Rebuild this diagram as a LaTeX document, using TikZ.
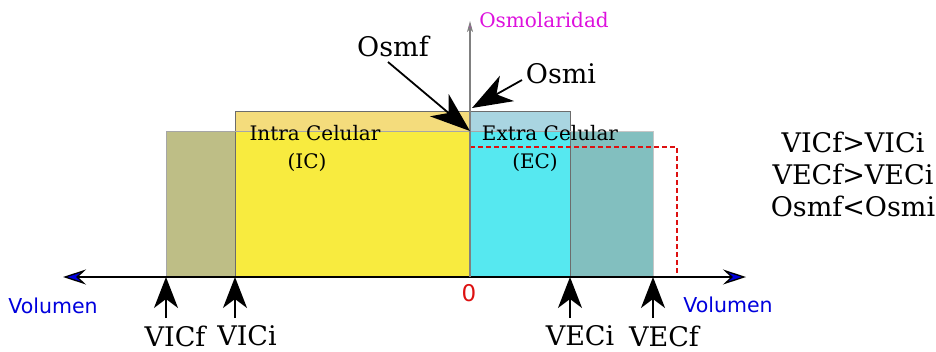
\documentclass[tikz,border=0pt]{standalone}
\usepackage{fontspec}
\setmainfont{DejaVu Serif}
\newfontfamily\sansfont{DejaVu Sans}
\usetikzlibrary{arrows.meta}
\definecolor{olivo}{HTML}{BEBE86}
\definecolor{amarilloclaro}{HTML}{F4DC7C}
\definecolor{amarillo}{HTML}{F8EB3F}
\definecolor{celeste}{HTML}{A9D5E1}
\definecolor{cian}{HTML}{56E8F0}
\definecolor{verdeazul}{HTML}{82BFBF}
\definecolor{rojo}{HTML}{DD1111}
\definecolor{magenta}{HTML}{DD11DD}
\definecolor{azul}{HTML}{0000DD}
\begin{document}
\begin{tikzpicture}[x=1pt,y=-1pt,
  flecha/.style={-{Stealth[length=31pt,width=24pt,inset=9pt]},line width=1.8pt},
  flechaosm/.style={-{Stealth[length=40pt,width=29pt,inset=12pt]},line width=1.8pt},
  grande/.style={font=\fontsize{27}{32}\selectfont,inner sep=0pt},
  medio/.style={font=\fontsize{20}{24}\selectfont,inner sep=0pt},
  borde/.style={draw=gray!85!black,line width=0.9pt}]
  \useasboundingbox (0,0) rectangle (936,351);
  % ejes
  \coordinate (O) at (470,277);
  \coordinate (izq) at (63,277);
  \coordinate (der) at (746,277);
  \coordinate (arriba) at (470,21);
  % compartimento intra celular
  \fill[olivo] (166,131) rectangle (235,277);
  \fill[amarilloclaro] (235,111) rectangle (470,131);
  \fill[amarillo] (235,131) rectangle (470,277);
  \draw[borde] (235,277) |- (470,111);
  \draw[gray!70,line width=0.9pt] (166,277) |- (470,131);
  % compartimento extra celular
  \fill[celeste] (470,111) rectangle (570,131);
  \fill[cian] (470,131) rectangle (570,277);
  \fill[verdeazul] (570,131) rectangle (653,277);
  \draw[borde] (470,111) -| (570,277);
  \draw[gray!45,line width=0.9pt] (570,131) -| (653,277);
  \draw[gray!70,line width=0.7pt] (470,131) -- (570,131);
  % volumen final (trazo rojo)
  \draw[rojo,line width=2.2pt,dash pattern=on 5pt off 3pt] (470,147) -| (677,275);
  % ejes
  \draw[line width=1.3pt,-{Stealth[length=23pt,width=15pt,inset=8pt,fill=azul]}] (O) -- (izq);
  \draw[line width=1.3pt,-{Stealth[length=23pt,width=15pt,inset=8pt,fill=azul]}] (O) -- (der);
  \draw[gray,line width=1.1pt,-{Stealth[length=11pt,width=6pt,inset=3pt,fill=magenta]}] (470,277) -- (arriba);
  \node[medio,text=magenta] (osmolaridad) at (544,20) {Osmolaridad};
  \node[font=\sansfont\fontsize{20.5}{24}\selectfont,text=azul,inner sep=0pt] (volizq) at (53,306) {Volumen};
  \node[font=\sansfont\fontsize{20.5}{24}\selectfont,text=azul,inner sep=0pt] (volder) at (728,305) {Volumen};
  \node[font=\sansfont\fontsize{23}{27}\selectfont,text=rojo,inner sep=0pt] (cero) at (469,293) {0};
  % textos de los compartimentos
  \node[medio] (ic) at (315,133) {Intra Celular};
  \node[medio] (icb) at (307,162) {(IC)};
  \node[medio] (ec) at (550,133) {Extra Celular};
  \node[medio] (ecb) at (535,162) {(EC)};
  % osmolaridades
  \node[grande] (osmf) at (393,46) {Osmf};
  \node[grande] (osmi) at (561,74) {Osmi};
  \coordinate (pf) at (470,131);
  \coordinate (pi) at (472,108);
  \draw[flechaosm] (388,62) -- (pf);
  \draw[flechaosm] (522,80) -- (pi);
  % volumenes
  \foreach \nom/\x/\dx in {VICf/166/9,VICi/235/12,VECi/570/10,VECf/653/11}{
    \coordinate (p\nom) at (\x,277);
    \coordinate (c\nom) at (\x,318);
    \draw[flecha] (c\nom) -- (p\nom);
    \node[grande] (l\nom) at (\x+\dx,336) {\nom};
  }
  % resumen
  \node[grande,align=center] (resumen) at (853,174) {VICf>VICi\\VECf>VECi\\Osmf<Osmi};
\end{tikzpicture}
\end{document}
